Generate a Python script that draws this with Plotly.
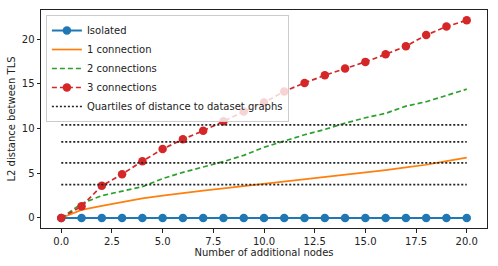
import plotly.graph_objects as go

x_nodes = list(range(21))
isolated = [0.0] * 21
one_conn = [0, 0.9, 1.35, 1.75, 2.2, 2.5, 2.8, 3.05, 3.3, 3.55, 3.8, 4.05, 4.3, 4.55, 4.85, 5.1, 5.35, 5.65, 5.95, 6.35, 6.75]
two_conn = [0, 1.6, 2.5, 3.0, 3.5, 4.4, 5.1, 5.7, 6.3, 7.0, 7.9, 8.6, 9.3, 9.9, 10.6, 11.2, 11.7, 12.5, 13.0, 13.7, 14.4]
three_conn = [0, 1.3, 3.6, 4.9, 6.35, 7.7, 8.8, 9.75, 10.8, 11.9, 12.9, 14.15, 15.1, 15.95, 16.7, 17.45, 18.3, 19.2, 20.45, 21.4, 22.1]
quartiles = [3.72, 6.17, 8.5, 10.4]
quart_x = [0, 20]

fig = go.Figure()
fig.add_trace(go.Scatter(x=x_nodes, y=isolated, name="Isolated", mode="lines+markers",
                         line=dict(color="#1f77b4", width=2), marker=dict(size=8.5, color="#1f77b4")))
fig.add_trace(go.Scatter(x=x_nodes, y=one_conn, name="1 connection", mode="lines",
                         line=dict(color="#ff7f0e", width=1.7)))
fig.add_trace(go.Scatter(x=x_nodes, y=two_conn, name="2 connections", mode="lines",
                         line=dict(color="#2ca02c", width=1.7, dash="5px,3px")))
fig.add_trace(go.Scatter(x=x_nodes, y=three_conn, name="3 connections", mode="lines+markers",
                         line=dict(color="#d62728", width=1.7, dash="5px,3px"), marker=dict(size=8.5, color="#d62728")))
for i, q in enumerate(quartiles):
    fig.add_trace(go.Scatter(x=quart_x, y=[q, q], name="Quartiles of distance to dataset graphs",
                             mode="lines", line=dict(color="#222", width=1.7, dash="2px,2px"),
                             showlegend=(i == 0), legendgroup="q"))

axis_common = dict(showline=True, linecolor="#222", linewidth=1, mirror=True, ticks="outside",
                   ticklen=3.5, tickcolor="#222", showgrid=False, zeroline=False, automargin=False,
                   tickfont=dict(family="DejaVu Sans", size=10, color="#222"))
fig.update_xaxes(range=[-1, 21], tickvals=[0, 2.5, 5, 7.5, 10, 12.5, 15, 17.5, 20],
                 ticktext=["0.0", "2.5", "5.0", "7.5", "10.0", "12.5", "15.0", "17.5", "20.0"],
                 title=dict(text="Number of additional nodes", standoff=2,
                            font=dict(family="DejaVu Sans", size=10, color="#222")), **axis_common)
fig.update_yaxes(range=[-1.12, 23.25], tickvals=[0, 5, 10, 15, 20],
                 title=dict(text="L2 distance between TLS", standoff=4,
                            font=dict(family="DejaVu Sans", size=10, color="#222")), **axis_common)
fig.update_layout(width=498, height=266, margin=dict(l=41, r=11, t=10, b=38),
                  plot_bgcolor="white", paper_bgcolor="white",
                  legend=dict(x=0.011, y=0.977, xanchor="left", yanchor="top",
                              bgcolor="rgba(255,255,255,0.8)", bordercolor="#ccc", borderwidth=1,
                              font=dict(family="DejaVu Sans", size=10, color="#222"),
                              tracegroupgap=0, itemwidth=30))
fig.write_html("out.html", config={"displayModeBar": False},
               post_script="document.body.style.margin='0';")
